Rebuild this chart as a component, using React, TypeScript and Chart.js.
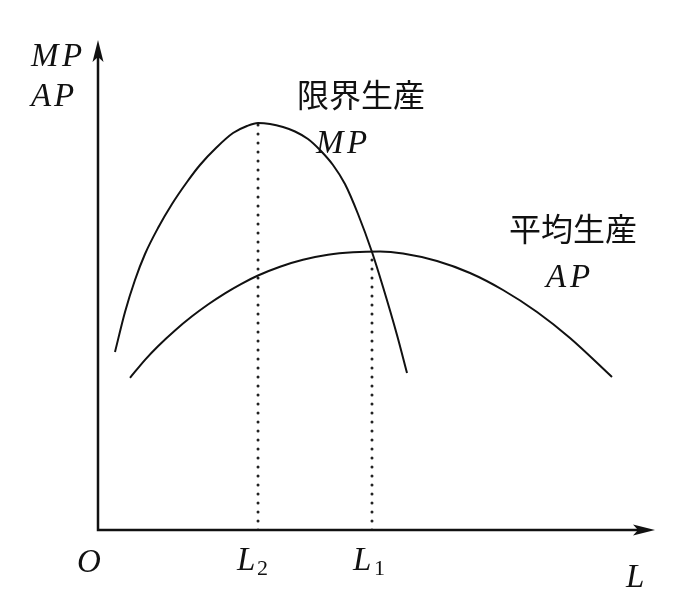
import React, { useEffect, useRef } from "react";
import { Chart, registerables } from "chart.js";

Chart.register(...registerables);

// Marginal product curve (x = labour L, y = product)
const mpX = [3.05, 4.85, 6.64, 8.44, 10.77, 13.29, 15.98, 18.31, 21.36, 24.24, 26.75, 28.73, 30.88, 33.21, 35.37, 37.7, 39.86, 42.19, 44.34, 46.68, 49.19, 51.17, 53.68, 55.48];
const mpY = [36.33, 44.49, 51.02, 56.33, 61.63, 66.53, 71.02, 74.49, 78.16, 81.02, 82.45, 83.06, 82.86, 82.24, 81.33, 79.8, 77.55, 74.49, 70.61, 64.49, 56.73, 49.59, 39.8, 32.04];
// Average product curve
const apX = [5.75, 8.44, 10.77, 13.82, 16.88, 19.75, 22.8, 25.67, 28.73, 32.68, 36.8, 41.29, 45.78, 50.63, 54.76, 60.86, 66.79, 72.71, 78.82, 84.74, 92.28];
const apY = [31.06, 34.73, 37.51, 40.73, 43.61, 46.02, 48.31, 50.2, 51.94, 53.73, 55.14, 56.16, 56.67, 56.84, 56.43, 54.9, 52.45, 48.98, 44.49, 39.18, 31.22];
// Key labour levels
const L2 = 28.73; // MP maximum
const L1 = 49.19; // MP = AP (AP maximum)
const mpAtL2 = 83.06;
const apAtL1 = 56.8;

const curveLabels = {
  mpJa: "限界生産",
  apJa: "平均生産",
};

export default function App() {
  const ref = useRef<HTMLCanvasElement | null>(null);

  useEffect(() => {
    const canvas = ref.current!;
    const toPts = (xs: number[], ys: number[]) => xs.map((x, i) => ({ x, y: ys[i] }));

    const overlay = {
      id: "overlay",
      afterDraw(chart: any) {
        const { ctx, scales } = chart;
        const xs = scales.x;
        const ys = scales.y;
        const x0 = xs.getPixelForValue(0);
        const y0 = ys.getPixelForValue(0);
        const xEnd = xs.getPixelForValue(100);
        const yEnd = ys.getPixelForValue(100);
        ctx.save();
        ctx.strokeStyle = "#111";
        ctx.fillStyle = "#111";
        ctx.lineWidth = 2.5;
        // axes
        ctx.beginPath();
        ctx.moveTo(x0, yEnd + 14);
        ctx.lineTo(x0, y0);
        ctx.lineTo(xEnd - 14, y0);
        ctx.stroke();
        // arrowheads
        ctx.beginPath();
        ctx.moveTo(x0, yEnd);
        ctx.lineTo(x0 - 5.5, yEnd + 22);
        ctx.lineTo(x0, yEnd + 17);
        ctx.lineTo(x0 + 5.5, yEnd + 22);
        ctx.closePath();
        ctx.fill();
        ctx.beginPath();
        ctx.moveTo(xEnd, y0);
        ctx.lineTo(xEnd - 22, y0 - 5.5);
        ctx.lineTo(xEnd - 17, y0);
        ctx.lineTo(xEnd - 22, y0 + 5.5);
        ctx.closePath();
        ctx.fill();

        const serif = '"Liberation Serif", "DejaVu Serif", serif';
        ctx.textBaseline = "alphabetic";
        ctx.textAlign = "left";
        const it = (t: string, x: number, y: number, size = 33) => {
          ctx.font = `italic ${size}px ${serif}`;
          ctx.fillText(t, x, y);
        };
        const up = (t: string, x: number, y: number, size = 22) => {
          ctx.font = `${size}px ${serif}`;
          ctx.fillText(t, x, y);
        };
        // y axis label
        it("M", 31, 66);
        it("P", 62, 66);
        it("A", 31, 106);
        it("P", 54, 106);
        // origin
        it("O", x0 - 21, y0 + 42);
        // L2, L1
        const l2 = xs.getPixelForValue(L2);
        const l1 = xs.getPixelForValue(L1);
        it("L", l2 - 21, y0 + 40);
        up("2", l2 - 1, y0 + 45);
        it("L", l1 - 19, y0 + 40);
        up("1", l1 + 2, y0 + 45);
        // L axis
        it("L", xEnd - 29, y0 + 57);
        // curve labels
        it("M", 316, 153);
        it("P", 347, 153);
        it("A", 546, 287);
        it("P", 570, 287);

        ctx.font = '32px "Noto Sans CJK JP", sans-serif';
        ctx.textAlign = "left";
        ctx.textBaseline = "middle";
        ctx.fillText(curveLabels.mpJa, 297, 95);
        ctx.fillText(curveLabels.apJa, 509, 229);
        ctx.restore();
      },
    };

    const chart = new Chart(canvas, {
      type: "line",
      data: {
        datasets: [
          {
            label: "MP",
            data: toPts(mpX, mpY),
            borderColor: "#111",
            borderWidth: 2,
            pointRadius: 0,
            cubicInterpolationMode: "monotone",
          },
          {
            label: "AP",
            data: toPts(apX, apY),
            borderColor: "#111",
            borderWidth: 2,
            pointRadius: 0,
            cubicInterpolationMode: "monotone",
          },
          {
            label: "L2",
            data: [
              { x: L2, y: 0 },
              { x: L2, y: mpAtL2 },
            ],
            borderColor: "#222",
            borderWidth: 3,
            borderDash: [0, 9],
            borderCapStyle: "round",
            pointRadius: 0,
          },
          {
            label: "L1",
            data: [
              { x: L1, y: 0 },
              { x: L1, y: apAtL1 },
            ],
            borderColor: "#222",
            borderWidth: 3,
            borderDash: [0, 9],
            borderCapStyle: "round",
            pointRadius: 0,
          },
        ],
      },
      options: {
        responsive: false,
        animation: false,
        layout: { padding: { left: 98, right: 28, top: 40, bottom: 62 } },
        scales: {
          x: { type: "linear", min: 0, max: 100, display: false },
          y: { type: "linear", min: 0, max: 100, display: false },
        },
        plugins: {
          legend: { display: false },
          tooltip: { enabled: false },
        },
      },
      plugins: [overlay],
    });
    return () => chart.destroy();
  }, []);

  return (
    <canvas
      ref={ref}
      width={683}
      height={592}
      style={{ position: "absolute", left: 0, top: 0, width: 683, height: 592, background: "#fff" }}
    />
  );
}
